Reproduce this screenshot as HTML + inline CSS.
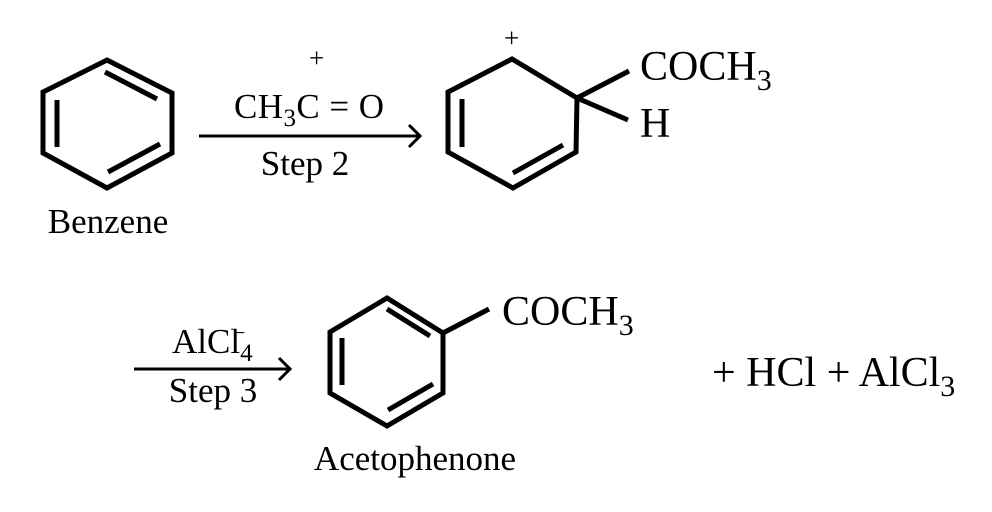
<!DOCTYPE html>
<html><head><style>html,body{margin:0;padding:0;background:#fff}svg{display:block}</style></head>
<body>
<svg width="992" height="512" viewBox="0 0 992 512" xmlns="http://www.w3.org/2000/svg" font-family="'Liberation Serif', serif" fill="#000">
<g stroke="#000" stroke-width="5" fill="none" stroke-linejoin="miter" stroke-linecap="butt">
<polygon points="107,60 172,93 172,153 107,188 43,153 43,92"/>
<line x1="57" y1="100" x2="57" y2="147"/>
<line x1="105" y1="72" x2="157" y2="99"/>
<line x1="108" y1="172" x2="160" y2="144"/>
<polyline points="577,98 512,59 448,92 448,152 513,188 576,152 577,98"/>
<line x1="462" y1="99" x2="462" y2="147"/>
<line x1="513" y1="173" x2="563" y2="145"/>
<line x1="577" y1="98" x2="629" y2="71"/>
<line x1="577" y1="98" x2="628" y2="120"/>
<polygon points="387,298 443,333 443,393 387,426 330,393 330,332"/>
<line x1="342" y1="338" x2="342" y2="385"/>
<line x1="387" y1="309" x2="430" y2="336"/>
<line x1="388" y1="410" x2="433" y2="384"/>
<line x1="443" y1="333" x2="489" y2="309"/>
</g>
<g stroke="#000" stroke-width="3" fill="none">
<line x1="199" y1="136" x2="419" y2="136"/>
<polyline points="409,125 420,136 409,147"/>
<line x1="134" y1="369" x2="289" y2="369"/>
<polyline points="279,358 290,369 279,380"/>
</g>
<g font-size="35">
<text x="234" y="118" textLength="150">CH<tspan font-size="25" dy="8">3</tspan><tspan dy="-8">C = O</tspan></text>
<text x="309" y="67" font-size="27">+</text>
<text x="305" y="175" text-anchor="middle">Step 2</text>
<text x="108" y="233" text-anchor="middle">Benzene</text>
<text x="172" y="353">AlCl<tspan font-size="25" dy="8">4</tspan></text>
<text x="233" y="340" font-size="22">−</text>
<text x="213" y="402" text-anchor="middle">Step 3</text>
<text x="415" y="470" text-anchor="middle">Acetophenone</text>
<text x="504" y="47" font-size="27">+</text>
</g>
<g font-size="42">
<text x="640" y="80">COCH<tspan font-size="30" dy="10">3</tspan></text>
<text x="640" y="137">H</text>
<text x="502" y="325">COCH<tspan font-size="30" dy="10">3</tspan></text>
<text x="712" y="386">+ HCl + AlCl<tspan font-size="30" dy="10">3</tspan></text>
</g>
</svg>
</body></html>
